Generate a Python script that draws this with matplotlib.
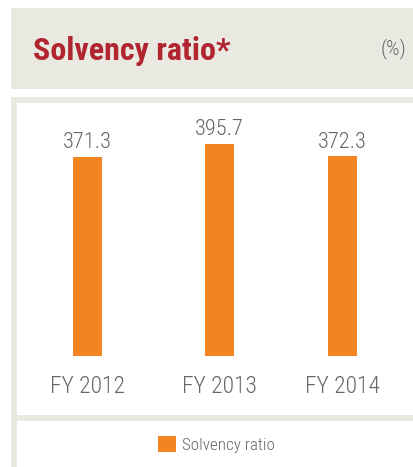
import matplotlib
matplotlib.use("Agg")
import matplotlib.pyplot as plt
from matplotlib.patches import Rectangle, Patch
from matplotlib.transforms import blended_transform_factory
from matplotlib import font_manager

categories = ["FY 2012", "FY 2013", "FY 2014"]
values = [371.3, 395.7, 372.3]
series_name = "Solvency ratio"
title = "Solvency ratio*"
unit = "(%)"

W, H = 414, 467
DPI = 100
fig = plt.figure(figsize=(W / DPI, H / DPI), dpi=DPI)
fig.patch.set_facecolor("white")
renderer = fig.canvas.get_renderer()

names = {f.name for f in font_manager.fontManager.ttflist}
cond = [n for n in ["Roboto Condensed", "Liberation Sans Narrow", "Open Sans Condensed", "Noto Sans Condensed"] if n in names]
FAM = cond + ["Roboto", "DejaVu Sans"]

BEIGE = "#EAE9E1"
ORANGE = "#F28421"
RED = "#B0252F"
GRAY = "#666666"


def rect(x0, y0, x1, y1, color):
    fig.add_artist(Rectangle((x0 / W, 1 - y1 / H), (x1 - x0) / W, (y1 - y0) / H,
                             transform=fig.transFigure, facecolor=color,
                             edgecolor="none", zorder=0))


def fit(t, target_w):
    """scale font size so the text's rendered width equals target_w pixels"""
    for _ in range(3):
        w = t.get_window_extent(renderer).width
        t.set_fontsize(t.get_fontsize() * target_w / w)
    return t


# header band
rect(11, 8, W, 89, BEIGE)
# chart panel border
rect(11, 97, W, H, BEIGE)
rect(17, 103, W, 415, "white")
rect(17, 421, W, H, "white")

t = fig.text(32.7 / W, 1 - 60 / H, title, family=FAM, weight="bold", color=RED,
             fontsize=24, va="baseline", ha="left")
fit(t, 196.6)
u = fig.text(406.7 / W, 1 - 54.3 / H, unit, family=FAM, color=GRAY, fontsize=14,
             va="baseline", ha="right", weight="light")
fit(u, 25.7)

# axes: x 17..414, y 103..356
ax = fig.add_axes([17 / W, 1 - 356 / H, (W - 17) / W, (356 - 103) / H])
ax.set_facecolor("none")
positions = [0, 1, 1.932]
bars = ax.bar(positions, values, width=0.22, color=ORANGE, zorder=2)
ax.set_xlim(-0.534, 2.473)
ax.set_ylim(0, 472)
ax.set_xticks(positions)
ax.set_xticklabels(categories, family=FAM, fontsize=18, color=GRAY, weight="light")
ax.tick_params(axis="x", length=0, pad=(393.3 - 356) * 72 / DPI)
ax.set_yticks([])
for s in ax.spines.values():
    s.set_visible(False)
for lab in ax.get_xticklabels():
    lab.set_va("baseline")
    fit(lab, 75)

for b, v in zip(bars, values):
    a = ax.annotate(f"{v:.1f}", (b.get_x() + b.get_width() / 2, v),
                    xytext=(0, 8.7 * 72 / DPI), textcoords="offset points",
                    ha="center", va="baseline", family=FAM, fontsize=16.5,
                    color=GRAY, weight="light")
    fit(a, 49)

leg = fig.legend(handles=[Patch(facecolor=ORANGE, label=series_name)],
                 loc="center left", bbox_to_anchor=(158.3 / W, 1 - 444.4 / H),
                 frameon=False, prop={"family": FAM, "size": 13, "weight": "light"},
                 handlelength=1.0, handleheight=1.0, handletextpad=0.3,
                 borderpad=0, borderaxespad=0)
lt = leg.get_texts()[0]
lt.set_color(GRAY)
# fit legend text width and handle size
fig.canvas.draw()
for _ in range(3):
    w = lt.get_window_extent(renderer).width
    fs = leg.prop.get_size() if hasattr(leg, "prop") else 13
    lt.set_fontsize(lt.get_fontsize() * 92.6 / w)
    fig.canvas.draw()

fig.savefig("out.png", dpi=DPI)
